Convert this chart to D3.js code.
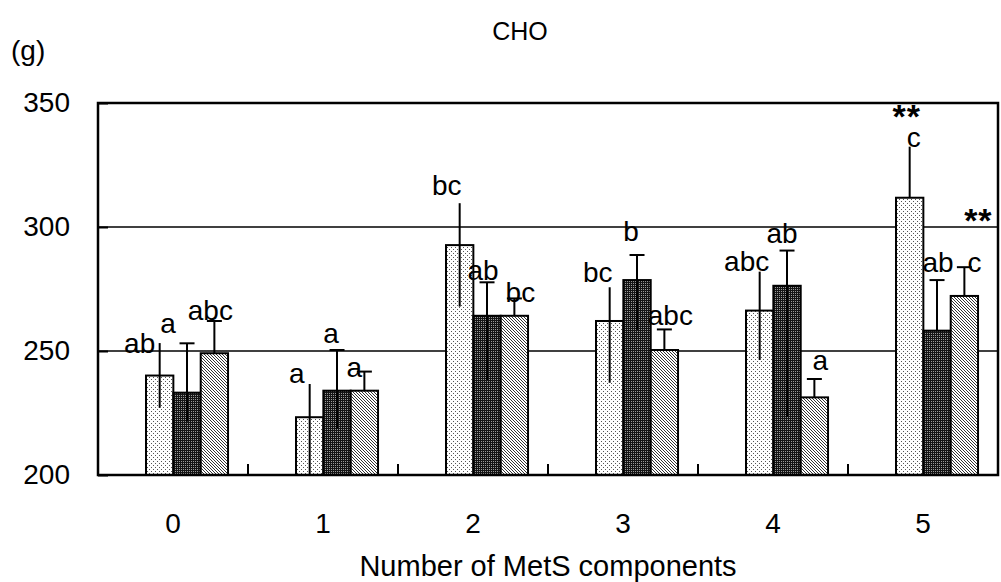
<!DOCTYPE html>
<html>
<head>
<meta charset="utf-8">
<script src="https://cdn.jsdelivr.net/npm/d3@7"></script>
<style>
  html, body { margin: 0; padding: 0; background: #fff; }
  svg { display: block; }
  text { font-family: "Liberation Sans", Arial, sans-serif; fill: #000; }
</style>
</head>
<body>
<svg id="chart" width="1001" height="582"></svg>
<script>
// ---- data ----
const categories = ["0", "1", "2", "3", "4", "5"];
const seriesKeys = ["s1", "s2", "s3"];
const yTicks = [200, 250, 300, 350];

const mean1 = [240.1, 223.3, 292.7, 262.1, 266.3, 311.8];
const mean2 = [233.2, 234.0, 264.2, 278.6, 276.3, 258.2];
const mean3 = [249.1, 234.0, 264.2, 250.4, 231.3, 272.2];

const upper1 = [253.2, 236.7, 309.6, 275.7, 282.0, 332.4];
const lower1 = [227.1, 200.0, 267.9, 237.2, 246.4, 311.8];
const upper2 = [253.1, 250.4, 277.7, 288.7, 290.5, 278.6];
const lower2 = [221.5, 218.8, 238.3, 258.5, 223.5, 258.2];
const upper3 = [262.1, 241.7, 271.2, 258.7, 238.7, 283.8];
const lower3 = [249.1, 234.0, 264.2, 250.4, 231.3, 272.2];

const letters1 = ["ab", "a", "bc", "bc", "abc", "c"];
const letters2 = ["a", "a", "ab", "b", "ab", "ab"];
const letters3 = ["abc", "a", "bc", "abc", "a", "c"];
const stars1 = ["", "", "", "", "", "**"];
const stars3 = ["", "", "", "", "", "**"];

const titleText = "CHO";
const unitText = "(g)";
const xTitle = "Number of MetS components";

// ---- layout (label nudges in px, relative to bar centre / whisker top) ----
const labelNudge1 = [[-20, 10], [-13, -1], [-13, -8], [-12, -5], [-13, -1], [4, 0]];
const labelNudge2 = [[-19, -10], [-6, -7], [-4, -2], [-6, -14], [-5, -8], [1, -8]];
const labelNudge3 = [[-4, -1], [-10, 5], [6, 4], [6, -4], [6, -9], [10, 5]];
const starNudge1 = [-3, -19];
const starNudge3 = [14, -35];

const M = { left: 98, right: 998, top: 103, bottom: 475 };

const svg = d3.select("#chart");

// patterns
const defs = svg.append("defs");
const p1 = defs.append("pattern").attr("id", "pat1").attr("patternUnits", "userSpaceOnUse")
  .attr("width", 4).attr("height", 4);
p1.append("rect").attr("width", 4).attr("height", 4).attr("fill", "#fff");
p1.append("rect").attr("x", 1).attr("y", 1).attr("width", 1).attr("height", 1).attr("fill", "#555");
p1.append("rect").attr("x", 3).attr("y", 3).attr("width", 1).attr("height", 1).attr("fill", "#555");

const p2 = defs.append("pattern").attr("id", "pat2").attr("patternUnits", "userSpaceOnUse")
  .attr("width", 2).attr("height", 2);
p2.append("rect").attr("width", 2).attr("height", 2).attr("fill", "#151515");
p2.append("rect").attr("x", 1).attr("y", 1).attr("width", 1).attr("height", 1).attr("fill", "#9a9a9a");

const p3 = defs.append("pattern").attr("id", "pat3").attr("patternUnits", "userSpaceOnUse")
  .attr("width", 3).attr("height", 3);
p3.append("rect").attr("width", 3).attr("height", 3).attr("fill", "#fff");
[0, 1, 2].forEach(i => p3.append("rect").attr("x", i).attr("y", i).attr("width", 1).attr("height", 1).attr("fill", "#333"));

const fills = { s1: "url(#pat1)", s2: "url(#pat2)", s3: "url(#pat3)" };

// scales
const x0 = d3.scaleBand().domain(categories).range([M.left, M.right]).padding(0);
const bw = x0.bandwidth();
const x1 = d3.scaleBand().domain(seriesKeys).range([0.32 * bw, 0.867 * bw]).padding(0);
const y = d3.scaleLinear().domain([200, 350]).range([M.bottom, M.top]);

// build rows
const seriesData = [
  { key: "s1", mean: mean1, up: upper1, lo: lower1, lab: letters1, nudge: labelNudge1, cap: false },
  { key: "s2", mean: mean2, up: upper2, lo: lower2, lab: letters2, nudge: labelNudge2, cap: true },
  { key: "s3", mean: mean3, up: upper3, lo: lower3, lab: letters3, nudge: labelNudge3, cap: true }
];
const rows = [];
seriesData.forEach(s => categories.forEach((c, i) => rows.push({
  cat: c, key: s.key, mean: s.mean[i], up: s.up[i], lo: s.lo[i], lab: s.lab[i], nudge: s.nudge[i], cap: s.cap
})));

// gridlines
svg.append("g").selectAll("line").data(yTicks.filter(t => t > 200 && t < 350)).join("line")
  .attr("x1", M.left).attr("x2", M.right)
  .attr("y1", d => y(d)).attr("y2", d => y(d))
  .attr("stroke", "#000").attr("stroke-width", 1.5);

// bars
const cx = d => x0(d.cat) + x1(d.key) + x1.bandwidth() / 2;
svg.append("g").selectAll("rect").data(rows).join("rect")
  .attr("x", d => x0(d.cat) + x1(d.key))
  .attr("y", d => y(d.mean))
  .attr("width", x1.bandwidth())
  .attr("height", d => y(200) - y(d.mean))
  .attr("fill", d => fills[d.key])
  .attr("stroke", "#000").attr("stroke-width", 2);

// labels
const lg = svg.append("g");
lg.selectAll("text.lab").data(rows).join("text").attr("class", "lab")
  .attr("x", d => cx(d) + d.nudge[0])
  .attr("y", d => y(d.up) + d.nudge[1])
  .attr("text-anchor", "middle")
  .attr("font-size", 28)
  .text(d => d.lab);

// stars
const starRows = [];
categories.forEach((c, i) => {
  if (stars1[i]) starRows.push({ cat: c, key: "s1", up: upper1[i], t: stars1[i], n: starNudge1 });
  if (stars3[i]) starRows.push({ cat: c, key: "s3", up: upper3[i], t: stars3[i], n: starNudge3 });
});
lg.selectAll("text.star").data(starRows).join("text").attr("class", "star")
  .attr("x", d => cx(d) + d.n[0])
  .attr("y", d => y(d.up) + d.n[1])
  .attr("text-anchor", "middle")
  .attr("font-size", 34).attr("font-weight", "bold").attr("letter-spacing", 1)
  .text(d => d.t);

// error bars
const eg = svg.append("g").attr("stroke", "#000").attr("stroke-width", 2);
eg.selectAll("line.v").data(rows).join("line").attr("class", "v")
  .attr("x1", cx).attr("x2", cx)
  .attr("y1", d => y(d.up)).attr("y2", d => y(Math.max(200, d.lo)));
eg.selectAll("line.c").data(rows.filter(d => d.cap)).join("line").attr("class", "c")
  .attr("x1", d => cx(d) - 7.5).attr("x2", d => cx(d) + 7.5)
  .attr("y1", d => y(d.up)).attr("y2", d => y(d.up));

// frame
svg.append("rect").attr("x", M.left).attr("y", M.top)
  .attr("width", M.right - M.left).attr("height", M.bottom - M.top)
  .attr("fill", "none").attr("stroke", "#000").attr("stroke-width", 2.5);

// y axis (inward ticks)
const yAxis = d3.axisLeft(y).tickValues(yTicks).tickSize(-10).tickPadding(28).tickFormat(d3.format("d"));
const ya = svg.append("g").attr("transform", `translate(${M.left},0)`).call(yAxis);
ya.select(".domain").remove();
ya.selectAll("line").attr("stroke", "#000").attr("stroke-width", 2);
ya.selectAll("text").attr("font-size", 28).attr("font-family", "Liberation Sans, Arial, sans-serif").attr("fill", "#000");

// x axis: labels at band centres, inward ticks at band boundaries
const xAxis = d3.axisBottom(x0).tickSize(0).tickPadding(0);
const xa = svg.append("g").attr("transform", `translate(0,${M.bottom})`).call(xAxis);
xa.select(".domain").remove();
xa.selectAll("text").attr("font-size", 28).attr("font-family", "Liberation Sans, Arial, sans-serif").attr("fill", "#000")
  .attr("dy", null).attr("y", 58);
svg.append("g").selectAll("line").data(categories.slice(1)).join("line")
  .attr("x1", d => x0(d)).attr("x2", d => x0(d))
  .attr("y1", M.bottom).attr("y2", M.bottom - 11)
  .attr("stroke", "#000").attr("stroke-width", 2);

// titles
svg.append("text").attr("x", 520).attr("y", 40).attr("text-anchor", "middle").attr("font-size", 25).text(titleText);
svg.append("text").attr("x", 11).attr("y", 60).attr("font-size", 28).text(unitText);
svg.append("text").attr("x", (M.left + M.right) / 2).attr("y", 576).attr("text-anchor", "middle")
  .attr("font-size", 29).text(xTitle);
</script>
</body>
</html>
